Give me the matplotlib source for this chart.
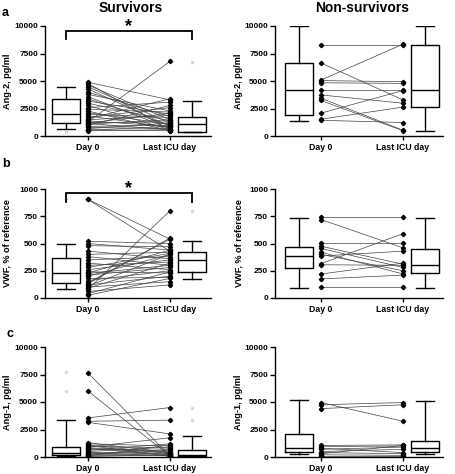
import matplotlib.pyplot as plt

plt.rcParams['font.family'] = ['Liberation Sans', 'DejaVu Sans']
plt.rcParams['font.weight'] = 'bold'

# ---- data ----
# a: Ang-2, pg/ml
sv_a_day0 = [4900, 4800, 4650, 4500, 4300, 4000, 3800, 3600, 3400, 3200, 3000, 2800,
             2600, 2450, 2300, 2150, 2000, 1850, 1700, 1600, 1500, 1400, 1300, 1250,
             1200, 1150, 1100, 1000, 900, 800, 700, 600, 550, 500]
sv_a_last = [3300, 600, 1500, 1200, 900, 1800, 2300, 700, 1000, 2000, 1400, 600,
             3100, 2200, 500, 1100, 1700, 800, 2600, 3400, 1900, 900, 6800, 1300,
             2100, 600, 1500, 2800, 1000, 700, 1200, 500, 900, 600]
ns_a_day0 = [8300, 6650, 5100, 5050, 4850, 4200, 3750, 3450, 3250, 2100, 1550, 1450]
ns_a_last = [8300, 3300, 8350, 4950, 4800, 4200, 3000, 550, 500, 4150, 2650, 1250]

# b: VWF, % of reference
sv_b_day0 = [905, 905, 520, 500, 480, 430, 400, 380, 350, 320, 300, 280, 260, 240, 225,
             210, 200, 180, 160, 140, 120, 100, 90, 80, 60, 40, 25, 110, 130, 230]
sv_b_last = [540, 430, 500, 440, 470, 360, 420, 300, 380, 260, 330, 410, 350, 230, 300,
             280, 400, 190, 250, 540, 200, 150, 320, 800, 120, 240, 180, 400, 550, 440]
ns_b_day0 = [740, 720, 505, 475, 455, 420, 400, 385, 315, 305, 220, 175, 100]
ns_b_last = [740, 460, 505, 310, 280, 220, 250, 430, 590, 300, 320, 210, 100]

# c: Ang-1, pg/ml
sv_c_day0 = [7650, 6000, 3550, 3250, 3150, 1300, 1200, 1100, 1000, 900, 800, 700,
             600, 500, 400, 300, 250, 200, 150, 100, 50, 1050, 850, 450]
sv_c_last = [100, 100, 4500, 3350, 2100, 400, 1000, 300, 800, 1750, 200, 600,
             1200, 900, 100, 500, 700, 300, 150, 1100, 200, 50, 400, 250]
ns_c_day0 = [4950, 4750, 4400, 1050, 950, 800, 700, 500, 400, 300, 200, 100]
ns_c_last = [3250, 4950, 4750, 1100, 1000, 400, 900, 700, 300, 1050, 150, 100]

# box stats: whislo, q1, median, q3, whishi
sv_a_box = [[630, 1180, 2000, 3350, 4500], [360, 360, 1120, 1780, 3230]]
ns_a_box = [[1420, 1930, 4170, 6620, 10000], [510, 2630, 4170, 8280, 10000]]
sv_b_box = [[83, 135, 226, 370, 495], [171, 242, 349, 425, 526]]
ns_b_box = [[95, 272, 385, 471, 737], [95, 226, 303, 447, 737]]
sv_c_box = [[60, 150, 360, 910, 3390], [0, 60, 210, 670, 1940]]
ns_c_box = [[300, 420, 820, 2120, 5150], [300, 420, 790, 1420, 5060]]

# faint outliers next to the boxes
sv_a_out = [[380], [6700]]
sv_b_out = [[905], [800]]
sv_c_out = [[7700, 6000], [4500, 3400]]

x_labels = ["Day 0", "Last ICU day"]
ang_ticks = [0, 2500, 5000, 7500, 10000]
vwf_ticks = [0, 250, 500, 750, 1000]

# positions on the x axis
BOX0, PTS0, PTS1, BOX1 = 0.0, 1.0, 4.73, 5.73
BOXW = 1.27


def draw_panel(ax, day0, last, boxes, ymax, ticks, ylabel, xlim, outl=None):
    for a, b in zip(day0, last):
        ax.plot([PTS0, PTS1], [a, b], color="#444444", lw=0.5, zorder=2)
    ax.plot([PTS0] * len(day0), day0, "D", color="k", ms=2.2, zorder=3)
    ax.plot([PTS1] * len(last), last, "D", color="k", ms=2.2, zorder=3)

    stats = []
    for s in boxes:
        stats.append(dict(whislo=s[0], q1=s[1], med=s[2], q3=s[3], whishi=s[4], fliers=[]))
    ax.bxp(stats, positions=[BOX0, BOX1], widths=BOXW, showfliers=False,
           boxprops=dict(color="k", lw=1.0),
           medianprops=dict(color="k", lw=1.0),
           whiskerprops=dict(color="k", lw=1.0),
           capprops=dict(color="k", lw=1.0), capwidths=0.62 * BOXW)
    if outl:
        for pos, vals in zip([BOX0, BOX1], outl):
            ax.plot([pos] * len(vals), vals, "o", color="#d8d8d8", ms=1.5,
                    clip_on=False, zorder=1)

    ax.set_xlim(*xlim)
    ax.set_ylim(0, ymax)
    ax.set_yticks(ticks)
    ax.set_xticks([PTS0, PTS1])
    ax.set_xticklabels(x_labels, fontsize=6.3, fontweight="bold")
    ax.tick_params(axis="y", labelsize=6.0, length=3.5, width=1.0, pad=1.5)
    ax.tick_params(axis="x", length=3, width=1.0, pad=2)
    for lab in ax.get_yticklabels():
        lab.set_fontweight("bold")
    ax.set_ylabel(ylabel, fontsize=6.6, fontweight="bold")
    ax.spines["top"].set_visible(False)
    ax.spines["right"].set_visible(False)
    ax.spines["left"].set_linewidth(1.0)
    ax.spines["bottom"].set_linewidth(1.0)


def bracket(ax, bar, leg):
    ax.plot([BOX0, BOX0, BOX1, BOX1], [leg, bar, bar, leg], color="k", lw=1.3,
            clip_on=False, solid_joinstyle="miter")
    ax.text((BOX0 + BOX1) / 2, bar, "*", ha="center", va="baseline",
            fontsize=13, fontweight="bold", clip_on=False)


W, H = 455, 474
fig = plt.figure(figsize=(W / 100, H / 100), dpi=100)
fig.patch.set_facecolor("white")

left_xlim = (-0.95, 6.6)
right_xlim = (-1.09, 6.55)
rows = [(26, 136.3), (189, 298), (347, 457)]


def make_ax(x0, xlim, row):
    top, bot = row
    width = (xlim[1] - xlim[0]) * 22
    return fig.add_axes([x0 / W, 1 - bot / H, width / W, (bot - top) / H])


ax_a1 = make_ax(45, left_xlim, rows[0])
ax_a2 = make_ax(275, right_xlim, rows[0])
ax_b1 = make_ax(45, left_xlim, rows[1])
ax_b2 = make_ax(275, right_xlim, rows[1])
ax_c1 = make_ax(45, left_xlim, rows[2])
ax_c2 = make_ax(275, right_xlim, rows[2])

draw_panel(ax_a1, sv_a_day0, sv_a_last, sv_a_box, 10000, ang_ticks, "Ang-2, pg/ml", left_xlim, sv_a_out)
draw_panel(ax_a2, ns_a_day0, ns_a_last, ns_a_box, 10000, ang_ticks, "Ang-2, pg/ml", right_xlim)
draw_panel(ax_b1, sv_b_day0, sv_b_last, sv_b_box, 1000, vwf_ticks, "VWF, % of reference", left_xlim, sv_b_out)
draw_panel(ax_b2, ns_b_day0, ns_b_last, ns_b_box, 1000, vwf_ticks, "VWF, % of reference", right_xlim)
draw_panel(ax_c1, sv_c_day0, sv_c_last, sv_c_box, 10000, ang_ticks, "Ang-1, pg/ml", left_xlim, sv_c_out)
draw_panel(ax_c2, ns_c_day0, ns_c_last, ns_c_box, 10000, ang_ticks, "Ang-1, pg/ml", right_xlim)

for ax in [ax_a1, ax_b1, ax_c1]:
    ax.yaxis.set_label_coords(-0.2, 0.5)
for ax in [ax_a2, ax_b2, ax_c2]:
    ax.yaxis.set_label_coords(-0.19, 0.5)

bracket(ax_a1, 9570, 8800)
bracket(ax_b1, 966, 883)

fig.text(131 / W, 1 - 7.5 / H, "Survivors", ha="center", va="center", fontsize=10, fontweight="bold")
fig.text(362 / W, 1 - 7.5 / H, "Non-survivors", ha="center", va="center", fontsize=10, fontweight="bold")
fig.text(5.5 / W, 1 - 13 / H, "a", ha="center", va="center", fontsize=9, fontweight="bold")
fig.text(5.5 / W, 1 - 164 / H, "b", ha="center", va="center", fontsize=9, fontweight="bold")
fig.text(10 / W, 1 - 334 / H, "c", ha="center", va="center", fontsize=9, fontweight="bold")

fig.savefig("out.png", dpi=100)
